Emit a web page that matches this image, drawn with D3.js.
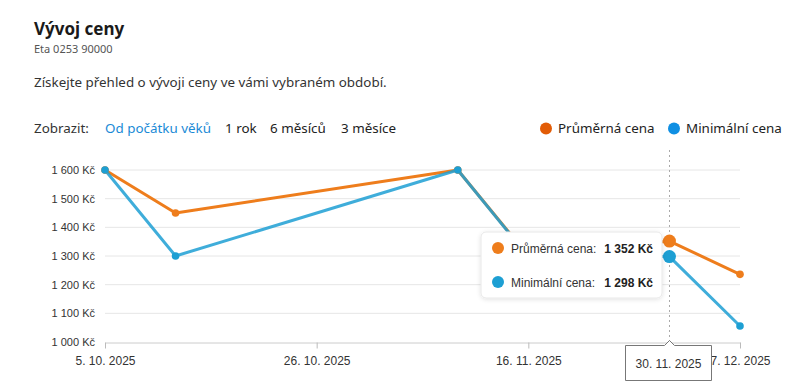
<!DOCTYPE html>
<html><head><meta charset="utf-8">
<script src="https://cdn.jsdelivr.net/npm/d3@7"></script>
<style>
html,body{margin:0;padding:0;background:#fff;}
svg{display:block;}
</style></head>
<body>
<svg id="c" width="794" height="392"></svg>
<script>
const dates = ["2025-10-05","2025-10-12","2025-11-09","2025-11-16","2025-11-30","2025-12-07"];
const avgPrice = [1600,1450,1600,1300,1352,1236];
const minPrice = [1600,1300,1600,1298,1298,1056];
const tickDates = ["2025-10-05","2025-10-26","2025-11-16","2025-12-07"];
const yTicks = [1000,1100,1200,1300,1400,1500,1600];
const periods = ["Od počátku věků","1 rok","6 měsíců","3 měsíce"];
const seriesNames = ["Průměrná cena","Minimální cena"];
const hoverIndex = 4;

const parse = d3.timeParse("%Y-%m-%d");
const svg = d3.select("#c");
const hf = "'Noto Sans', sans-serif";
const cf = "'Liberation Sans', Arial, sans-serif";
const ORANGE = "#ee7d1c", BLUE = "#1d9fd3";
const fmtNum = v => d3.format(",")(v).replace(/,/g, " ") + " Kč";
const fmtDate = d => `${d.getDate()}. ${d.getMonth()+1}. ${d.getFullYear()}`;

// header
svg.append("text").attr("x",34).attr("y",35).attr("font-family",hf).attr("font-size",17)
  .attr("font-weight",700).attr("fill","#1a1a1a").text("Vývoj ceny");
svg.append("text").attr("x",34).attr("y",53).attr("font-family",hf).attr("font-size",11)
  .attr("fill","#555").text("Eta 0253 90000");
svg.append("text").attr("x",34).attr("y",87).attr("font-family",hf).attr("font-size",13.4)
  .attr("fill","#333").text("Získejte přehled o vývoji ceny ve vámi vybraném období.");

svg.append("text").attr("x",34).attr("y",133).attr("font-family",hf).attr("font-size",13.4)
  .attr("fill","#333").text("Zobrazit:");
const px = [105,225,270,341];
periods.forEach((p,i)=>{
  svg.append("text").attr("x",px[i]).attr("y",133).attr("font-family",hf).attr("font-size",13.4)
    .attr("fill", i===0 ? "#1a8ad6" : "#222").text(p);
});
// legend
const legendCols = ["#e25c06","#0f8fe3"];
const lx = [546,674];
seriesNames.forEach((n,i)=>{
  svg.append("circle").attr("cx",lx[i]).attr("cy",128.5).attr("r",6).attr("fill",legendCols[i]);
  svg.append("text").attr("x",lx[i]+12).attr("y",133).attr("font-family",hf).attr("font-size",13.4)
    .attr("fill","#222").text(n);
});

// chart
const x = d3.scaleTime().domain([parse(dates[0]), parse(dates[dates.length-1])]).range([105,740]);
const y = d3.scaleLinear().domain([1000,1600]).range([342,170]);

const g = svg.append("g");
g.selectAll("line.grid").data(yTicks.slice(1)).join("line")
  .attr("x1",105).attr("x2",740).attr("y1",d=>y(d)).attr("y2",d=>y(d))
  .attr("stroke","#e6e6e6").attr("stroke-width",1);

const yAxis = d3.axisLeft(y).tickValues(yTicks).tickFormat(fmtNum).tickSize(0).tickPadding(10);
const ya = g.append("g").attr("transform","translate(105,0)").call(yAxis);
ya.select(".domain").remove();
ya.selectAll("text").attr("font-family",cf).attr("font-size",11).attr("fill","#333");

const xAxis = d3.axisBottom(x).tickValues(tickDates.map(parse)).tickFormat(fmtDate).tickSize(6).tickSizeOuter(0).tickPadding(8);
const xa = g.append("g").attr("transform","translate(0,342.5)").call(xAxis);
xa.select(".domain").attr("stroke","#ccc");
xa.selectAll(".tick line").attr("stroke","#bbb");
xa.selectAll("text").attr("font-family",cf).attr("font-size",12).attr("fill","#333");

const hx = Math.round(x(parse(dates[hoverIndex])))+0.5;
g.append("line").attr("x1",hx).attr("x2",hx).attr("y1",150).attr("y2",342)
  .attr("stroke","#aaa").attr("stroke-dasharray","2,3").attr("stroke-width",1);

const data = dates.map((d,i)=>({d:parse(d), a:avgPrice[i], m:minPrice[i]}));
const lineA = d3.line().x(d=>x(d.d)).y(d=>y(d.a));
const lineM = d3.line().x(d=>x(d.d)).y(d=>y(d.m));
g.append("path").datum(data).attr("d",lineA).attr("fill","none").attr("stroke",ORANGE).attr("stroke-width",3).attr("stroke-linejoin","round");
g.append("path").datum(data).attr("d",lineM).attr("fill","none").attr("stroke",BLUE).attr("stroke-width",3).attr("stroke-opacity",0.85).attr("stroke-linejoin","round");

g.selectAll("circle.a").data(data).join("circle").attr("cx",d=>x(d.d)).attr("cy",d=>y(d.a))
  .attr("r",(d,i)=>i===hoverIndex?6.5:3.8).attr("fill",ORANGE);
g.selectAll("circle.m").data(data).join("circle").attr("cx",d=>x(d.d)).attr("cy",d=>y(d.m))
  .attr("r",(d,i)=>i===hoverIndex?6.5:3.8).attr("fill",BLUE);

// tooltip
const tt = svg.append("g");
const defs = svg.append("defs");
const f = defs.append("filter").attr("id","sh").attr("x","-20%").attr("y","-20%").attr("width","140%").attr("height","140%");
f.append("feDropShadow").attr("dx",0).attr("dy",1).attr("stdDeviation",2).attr("flood-color","#000").attr("flood-opacity",0.12);
tt.append("rect").attr("x",481).attr("y",232).attr("width",181).attr("height",66).attr("rx",5)
  .attr("fill","#fff").attr("stroke","#e8e8e8").attr("filter","url(#sh)");
const hd = data[hoverIndex];
const rows = [[seriesNames[0]+":", hd.a, ORANGE, 248],[seriesNames[1]+":", hd.m, BLUE, 282]];
rows.forEach(r=>{
  tt.append("circle").attr("cx",498).attr("cy",r[3]).attr("r",6).attr("fill",r[2]);
  tt.append("text").attr("x",511).attr("y",r[3]+4.5).attr("font-family",cf).attr("font-size",12).attr("fill","#333").text(r[0]);
  tt.append("text").attr("x",653).attr("y",r[3]+4.5).attr("text-anchor","end").attr("font-family",cf).attr("font-size",12)
    .attr("font-weight",700).attr("fill","#222").text(fmtNum(r[1]));
});

// date label box with caret
const bx0 = 625, bx1 = 712, by0 = 345, by1 = 381, cx = hx;
const p = `M${bx0+0.5},${by0+0.5} L${cx-5},${by0+0.5} L${cx},${by0-4.5} L${cx+5},${by0+0.5} L${bx1-0.5},${by0+0.5} L${bx1-0.5},${by1-0.5} L${bx0+0.5},${by1-0.5} Z`;
svg.append("path").attr("d",p).attr("fill","#fff").attr("stroke","#777").attr("stroke-width",1);
svg.append("text").attr("x",(bx0+bx1)/2).attr("y",368).attr("text-anchor","middle").attr("font-family",cf)
  .attr("font-size",12).attr("fill","#333").text(fmtDate(hd.d));
</script>
</body></html>
